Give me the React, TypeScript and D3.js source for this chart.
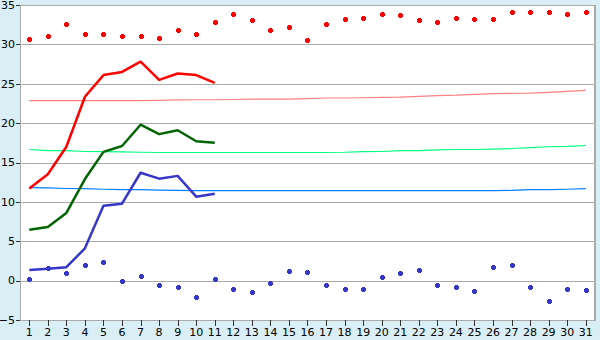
import React from "react";
import * as d3 from "d3";

const days = d3.range(1, 32);
const yTicks = [-5, 0, 5, 10, 15, 20, 25, 30, 35];

const recordMax = [30.7, 31.1, 32.6, 31.3, 31.3, 31.1, 31.1, 30.8, 31.8, 31.3, 32.8, 33.8, 33.1, 31.8, 32.2, 30.5, 32.6, 33.2, 33.3, 33.8, 33.7, 33.1, 32.8, 33.3, 33.2, 33.2, 34.1, 34.1, 34.1, 33.8, 34.1];
const recordMin = [0.2, 1.6, 1.0, 2.0, 2.4, 0.0, 0.6, -0.55, -0.8, -2.1, 0.2, -1.05, -1.45, -0.3, 1.25, 1.1, -0.55, -1.05, -1.05, 0.45, 1.0, 1.35, -0.55, -0.8, -1.3, 1.75, 2.0, -0.8, -2.6, -1.05, -1.2];

const obsMax = [11.7, 13.5, 17.0, 23.35, 26.1, 26.5, 27.8, 25.5, 26.3, 26.1, 25.1];
const obsMean = [6.45, 6.8, 8.6, 12.9, 16.35, 17.1, 19.8, 18.6, 19.1, 17.7, 17.5];
const obsMin = [1.36, 1.5, 1.7, 4.1, 9.5, 9.77, 13.7, 12.95, 13.3, 10.66, 11.04];

const normMax = [22.85, 22.85, 22.85, 22.85, 22.85, 22.85, 22.85, 22.9, 22.95, 22.97, 22.97, 23.0, 23.06, 23.06, 23.06, 23.1, 23.19, 23.19, 23.22, 23.27, 23.3, 23.4, 23.5, 23.55, 23.66, 23.75, 23.78, 23.8, 23.91, 24.04, 24.16];
const normMean = [16.65, 16.52, 16.5, 16.4, 16.39, 16.35, 16.3, 16.27, 16.27, 16.27, 16.27, 16.27, 16.27, 16.27, 16.27, 16.27, 16.27, 16.3, 16.39, 16.4, 16.5, 16.52, 16.6, 16.65, 16.65, 16.7, 16.78, 16.9, 17.0, 17.05, 17.16];
const normMin = [11.81, 11.78, 11.7, 11.68, 11.6, 11.55, 11.55, 11.5, 11.45, 11.43, 11.43, 11.43, 11.43, 11.43, 11.43, 11.43, 11.43, 11.43, 11.43, 11.43, 11.43, 11.43, 11.43, 11.43, 11.43, 11.43, 11.45, 11.55, 11.55, 11.6, 11.68];

const W = 600, H = 340;
const L = 20, R = 595, T = 5, B = 320;

export default function App() {
  const x = d3.scaleBand<number>().domain(days).range([L, R]).padding(0);
  const cx = (d: number) => (x(d) as number) + x.bandwidth() / 2;
  const y = d3.scaleLinear().domain([-5, 35]).range([B, T]);

  const line = (vals: number[]) =>
    d3.line<number>().x((_, i) => cx(days[i])).y((v) => y(v))(vals) as string;

  const crossPath = (px: number, py: number) => {
    const a = 2.5, b = 1.5;
    return `M${px - b},${py - a}h${2 * b}v${a - b}h${a - b}v${2 * b}h${-(a - b)}v${a - b}h${-2 * b}v${-(a - b)}h${-(a - b)}v${-2 * b}h${a - b}z`;
  };

  const font = "'DejaVu Sans', Verdana, sans-serif";

  return (
    <svg width={W} height={H} style={{ position: "absolute", left: 0, top: 0, display: "block" }}>
      <rect x={0} y={0} width={W} height={H} fill="#d9eef5" />
      <rect x={L} y={T} width={R - L} height={B - T} fill="#ffffff" />
      {yTicks.slice(1, -1).map((t) => (
        <line key={"g" + t} x1={L} x2={R} y1={Math.round(y(t)) + 0.5} y2={Math.round(y(t)) + 0.5} stroke="#aaaaaa" strokeWidth={1} />
      ))}
      {/* frame */}
      <line x1={L} x2={R} y1={T + 0.5} y2={T + 0.5} stroke="#aaaaaa" />
      <line x1={L} x2={R} y1={B + 0.5} y2={B + 0.5} stroke="#aaaaaa" />
      <line x1={L + 0.5} x2={L + 0.5} y1={T} y2={B} stroke="#aaaaaa" />
      <line x1={R} x2={R} y1={T} y2={B + 1} stroke="#aaaaaa" strokeWidth={2} />

      {/* y ticks */}
      {yTicks.map((t) => (
        <g key={"y" + t}>
          <line x1={16} x2={L} y1={Math.round(y(t)) + 0.5} y2={Math.round(y(t)) + 0.5} stroke="#333" />
          <text x={15} y={y(t)} dy="0.35em" textAnchor="end" fontSize={11} fontFamily={font} fill="#000">
            {t < 0 ? "\u2212" + Math.abs(t) : t}
          </text>
        </g>
      ))}
      {/* x ticks */}
      {days.map((d) => (
        <g key={"x" + d}>
          <line x1={Math.round(cx(d)) + 0.5} x2={Math.round(cx(d)) + 0.5} y1={B} y2={B + 6} stroke="#333" />
          <text x={cx(d)} y={B + 16} textAnchor="middle" fontSize={11} fontFamily={font} fill="#000">
            {d}
          </text>
        </g>
      ))}

      {/* normals */}
      <path d={line(normMax)} fill="none" stroke="#ff8080" strokeWidth={1.2} />
      <path d={line(normMean)} fill="none" stroke="#00ff80" strokeWidth={1.2} />
      <path d={line(normMin)} fill="none" stroke="#0080ff" strokeWidth={1.2} />

      {/* observed */}
      <path d={line(obsMax)} fill="none" stroke="#ff0000" strokeWidth={2.5} strokeLinejoin="round" />
      <path d={line(obsMean)} fill="none" stroke="#006400" strokeWidth={2.5} strokeLinejoin="round" />
      <path d={line(obsMin)} fill="none" stroke="#3636c8" strokeWidth={2.5} strokeLinejoin="round" />

      {/* records */}
      {recordMax.map((v, i) => (
        <path key={"rm" + i} d={crossPath(Math.round(cx(days[i])) + 0.5, Math.round(y(v)) + 0.5)} fill="#ff0000" />
      ))}
      {recordMin.map((v, i) => (
        <path key={"rn" + i} d={crossPath(Math.round(cx(days[i])) + 0.5, Math.round(y(v)) + 0.5)} fill="#3636c8" />
      ))}
    </svg>
  );
}
